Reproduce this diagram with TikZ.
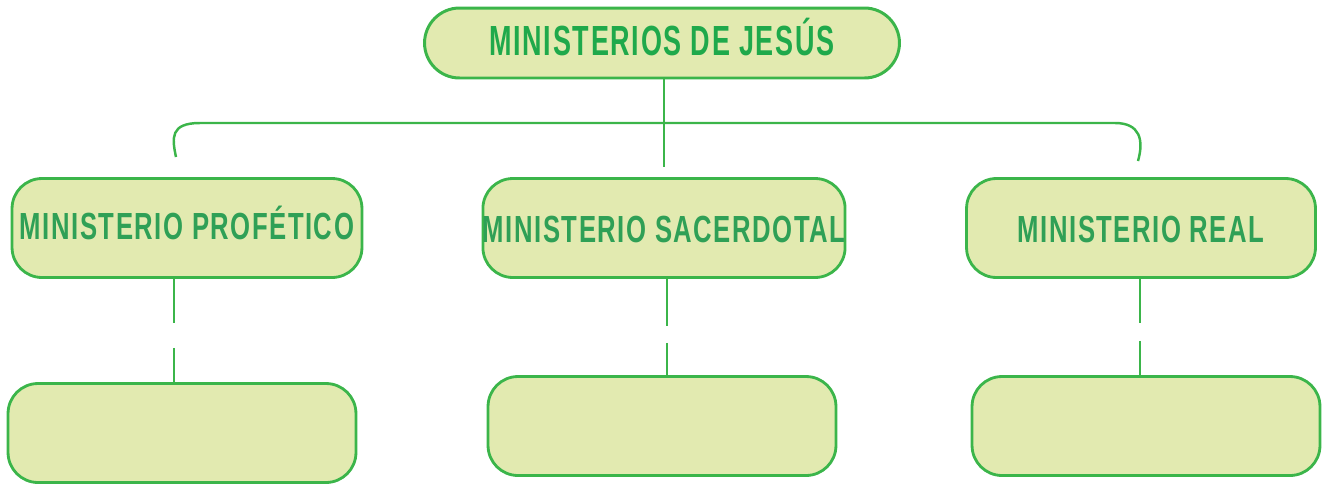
\documentclass[tikz,border=0pt]{standalone}
\usepackage{fontspec}
\newfontfamily\topfont[FakeStretch=0.64, LetterSpace=4]{Liberation Sans}
\newfontfamily\subfont[FakeStretch=0.68, LetterSpace=4]{Liberation Sans}
\definecolor{boxfill}{HTML}{E2EAB0}
\definecolor{boxline}{HTML}{3BB54A}
\definecolor{toptext}{HTML}{1FA94B}
\definecolor{subtext}{HTML}{2FA056}
\tikzset{
  topbox/.style={draw=boxline, fill=boxfill, line width=1.7pt, rounded corners=0.7cm,
    minimum width=9.5cm, minimum height=1.4cm, inner sep=0pt, text=toptext,
    text height=17.2pt, text depth=3.4pt,
    font=\topfont\bfseries\fontsize{24}{24}\selectfont},
  ministry/.style={draw=boxline, fill=boxfill, line width=1.6pt, rounded corners=0.6cm,
    minimum height=1.98cm, inner sep=0pt, text=subtext,
    text height=16.5pt, text depth=0pt,
    font=\subfont\bfseries\fontsize{21.5}{21.5}\selectfont},
  emptybox/.style={draw=boxline, fill=boxfill, line width=1.6pt, rounded corners=0.6cm,
    minimum width=6.96cm, minimum height=1.98cm, inner sep=0pt},
  link/.style={draw=boxline, line width=1.4pt}
}
\begin{document}
\begin{tikzpicture}[x=0.02cm,y=-0.02cm]
\useasboundingbox (0,0) rectangle (1325,484);
\node[topbox] (jesus) at (662,43) {MINISTERIOS DE JESÚS};
\node[ministry, minimum width=7cm, text height=15.4pt, text depth=2.3pt] (profetico) at (187,228) {MINISTERIO PROFÉTICO};
\node[ministry, minimum width=7.2cm] (sacerdotal) at (664,228) {MINISTERIO SACERDOTAL};
\node[ministry, minimum width=6.98cm] (real) at (1141,228) {MINISTERIO REAL};
\node[emptybox] (profBox) at (182,433) {};
\node[emptybox] (sacBox) at (662,426) {};
\node[emptybox] (realBox) at (1146,426) {};
% bracket
\coordinate (brL) at (176,157);
\coordinate (brR) at (1138,161);
\draw[link] ([xshift=0.04cm]jesus.south) -- ++(0,88);
\draw[link] (brL) .. controls (172,138) and (170,123) .. (200,123) -- (1115,123)
  .. controls (1140,123) and (1144,140) .. (brR);
% broken connectors
\draw[link, dash pattern=on 0.88cm off 0.5cm on 2cm]
  ([xshift=-0.26cm]profetico.south) -- ([xshift=-0.26cm]profetico.south |- profBox.north);
\draw[link, dash pattern=on 0.94cm off 0.34cm on 2cm]
  ([xshift=0.06cm]sacerdotal.south) -- ([xshift=0.06cm]sacerdotal.south |- sacBox.north);
\draw[link, dash pattern=on 0.88cm off 0.36cm on 2cm]
  ([xshift=-0.02cm]real.south) -- ([xshift=-0.02cm]real.south |- realBox.north);
\end{tikzpicture}
\end{document}
